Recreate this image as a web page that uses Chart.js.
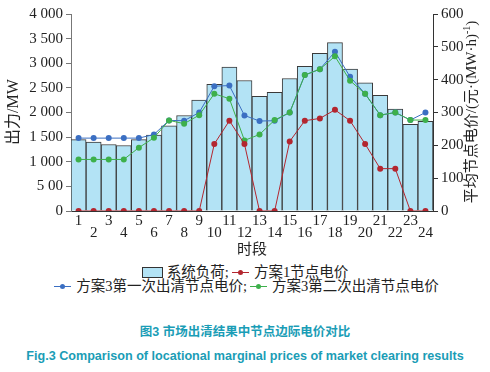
<!DOCTYPE html>
<html>
<head>
<meta charset="utf-8">
<script src="https://cdn.jsdelivr.net/npm/chart.js@4/dist/chart.umd.min.js"></script>
<style>
  body { margin: 0; background: #fff; width: 490px; height: 372px; overflow: hidden; position: relative; }
  #wrap { position: absolute; left: 0; top: 0; width: 490px; height: 262px; }
  .leg { position: absolute; left: 0; width: 490px; text-align: center; white-space: nowrap;
         font: 14.5px "Liberation Serif", "Noto Sans CJK SC", serif; color: #222; line-height: 14px; }
  .box { display: inline-block; width: 19px; height: 9px; background: #b3e3f5; border: 1px solid #333;
         vertical-align: -1px; margin-right: 4px; }
  .ln { display: inline-block; position: relative; width: 17px; height: 1px; vertical-align: 4px; margin: 0 5px 0 3px; }
  .ln i { position: absolute; left: 6px; top: -2px; width: 5px; height: 5px; border-radius: 50%; }
  .cap { position: absolute; left: 0; width: 490px; text-align: center; font-weight: bold; color: #1a9db6;
         font-family: "Liberation Sans", "Noto Sans CJK SC", sans-serif; white-space: nowrap; }
</style>
</head>
<body>
<div id="wrap"><canvas id="c" width="490" height="262"></canvas></div>
<div class="leg" style="top:265px"><span class="box"></span>系统负荷;<span class="ln" style="background:#b3262f"><i style="background:#b3262f"></i></span>方案1节点电价</div>
<div class="leg" style="top:279px"><span class="ln" style="background:#3b6fc2"><i style="background:#3b6fc2"></i></span>方案3第一次出清节点电价;<span class="ln" style="background:#3db04b"><i style="background:#3db04b"></i></span>方案3第二次出清节点电价</div>
<div class="cap" style="top:321px;font-size:12.5px">图3 市场出清结果中节点边际电价对比</div>
<div class="cap" style="top:349px;font-size:12.6px">Fig.3 Comparison of locational marginal prices of market clearing results</div>
<script>
const hours = ['1','2','3','4','5','6','7','8','9','10','11','12','13','14','15','16','17','18','19','20','21','22','23','24'];
const load = [1450,1400,1350,1330,1450,1540,1730,1940,2250,2570,2920,2650,2330,2410,2690,2940,3200,3420,2880,2600,2350,2070,1760,1820];
const lmpPlan1 = [0,0,0,0,0,0,0,0,0,204,275,204,0,0,212,275,282,308,275,204,129,129,0,0];
const lmpPlan3First = [222,222,222,222,222,233,276,275,300,380,382,291,274,275,300,414,432,485,409,357,292,300,277,300];
const lmpPlan3Second = [157,157,157,157,193,223,276,266,292,357,342,215,233,277,300,414,432,471,397,357,292,300,277,277];
const leftTicks = ['0','5 00','1 000','1 500','2 000','2 500','3 000','3 500','4 000'];
const rightTicks = ['0','100','200','300','400','500','600'];

const serif = '"Liberation Serif", "Noto Sans CJK SC", serif';

// axis titles drawn by hand, both reading bottom-to-top
const titles = {
    id: 'titles',
    afterDraw(chart) {
        const ctx = chart.ctx;
        const area = chart.chartArea;
        ctx.save();
        ctx.fillStyle = '#222';
        ctx.textBaseline = 'middle';
        ctx.font = '15px ' + serif;
        ctx.textAlign = 'center';
        ctx.fillText('时段', (area.left + area.right) / 2, 250);

        ctx.translate(14, 112);
        ctx.rotate(-Math.PI / 2);
        ctx.font = '16px ' + serif;
        ctx.fillText('出力/MW', 0, 0);
        ctx.restore();

        ctx.save();
        ctx.fillStyle = '#222';
        ctx.textBaseline = 'middle';
        ctx.font = '15px ' + serif;
        const main = '平均节点电价/(元·(MW·h)';
        const w1 = ctx.measureText(main).width;
        ctx.font = '10px ' + serif;
        const w2 = ctx.measureText('-1').width;
        ctx.font = '15px ' + serif;
        const w3 = ctx.measureText(')').width;
        const total = w1 + w2 + w3;
        ctx.translate(472, 112);
        ctx.rotate(-Math.PI / 2);
        let x = -total / 2;
        ctx.textAlign = 'left';
        ctx.fillText(main, x, 0);
        x += w1;
        ctx.font = '10px ' + serif;
        ctx.fillText('-1', x, -5);
        x += w2;
        ctx.font = '15px ' + serif;
        ctx.fillText(')', x, 0);
        ctx.restore();
    }
};

const lineSet = (data, color) => ({
    type: 'line',
    data,
    yAxisID: 'y1',
    borderColor: color,
    backgroundColor: color,
    borderWidth: 1,
    pointRadius: 3,
    pointBorderWidth: 0,
    pointBackgroundColor: color,
    tension: 0
});

new Chart(document.getElementById('c'), {
    data: {
        labels: hours,
        datasets: [
            Object.assign(lineSet(lmpPlan1, '#b3262f'), { order: 1 }),
            Object.assign(lineSet(lmpPlan3Second, '#3db04b'), { order: 2 }),
            Object.assign(lineSet(lmpPlan3First, '#3b6fc2'), { order: 3 }),
            {
                type: 'bar',
                data: load,
                yAxisID: 'y',
                backgroundColor: '#b3e3f5',
                borderColor: '#3a3a3a',
                borderWidth: 1,
                categoryPercentage: 1,
                barPercentage: 1,
                order: 10
            }
        ]
    },
    options: {
        responsive: false,
        animation: false,
        events: [],
        layout: { padding: { top: 14, left: 0, right: 0, bottom: 0 } },
        plugins: { legend: { display: false }, tooltip: { enabled: false } },
        scales: {
            x: {
                grid: { drawOnChartArea: false, drawTicks: false },
                border: { color: '#333', width: 1 },
                ticks: {
                    color: '#222',
                    padding: 4,
                    maxRotation: 0,
                    autoSkip: false,
                    font: { family: serif, size: 15, lineHeight: '12px' },
                    callback: (v, i) => (i % 2 === 0 ? [hours[i], ''] : ['', hours[i]])
                },
                afterFit: s => { s.height = 51; }
            },
            y: {
                position: 'left',
                min: 0, max: 4000,
                grid: { drawOnChartArea: false, drawTicks: true, tickLength: 5, color: '#777' },
                border: { color: '#777', width: 1 },
                ticks: {
                    stepSize: 500,
                    color: '#222',
                    padding: 3,
                    font: { family: serif, size: 15 },
                    callback: (v, i) => leftTicks[i]
                },
                afterFit: s => { s.width = 71; }
            },
            y1: {
                position: 'right',
                min: 0, max: 600,
                grid: { drawOnChartArea: false, drawTicks: true, tickLength: 5, color: '#333' },
                border: { color: '#333', width: 1 },
                ticks: {
                    stepSize: 100,
                    color: '#222',
                    padding: 3,
                    font: { family: serif, size: 15 },
                    callback: (v, i) => rightTicks[i]
                },
                afterFit: s => { s.width = 57; }
            }
        }
    },
    plugins: [titles]
});
</script>
</body>
</html>
